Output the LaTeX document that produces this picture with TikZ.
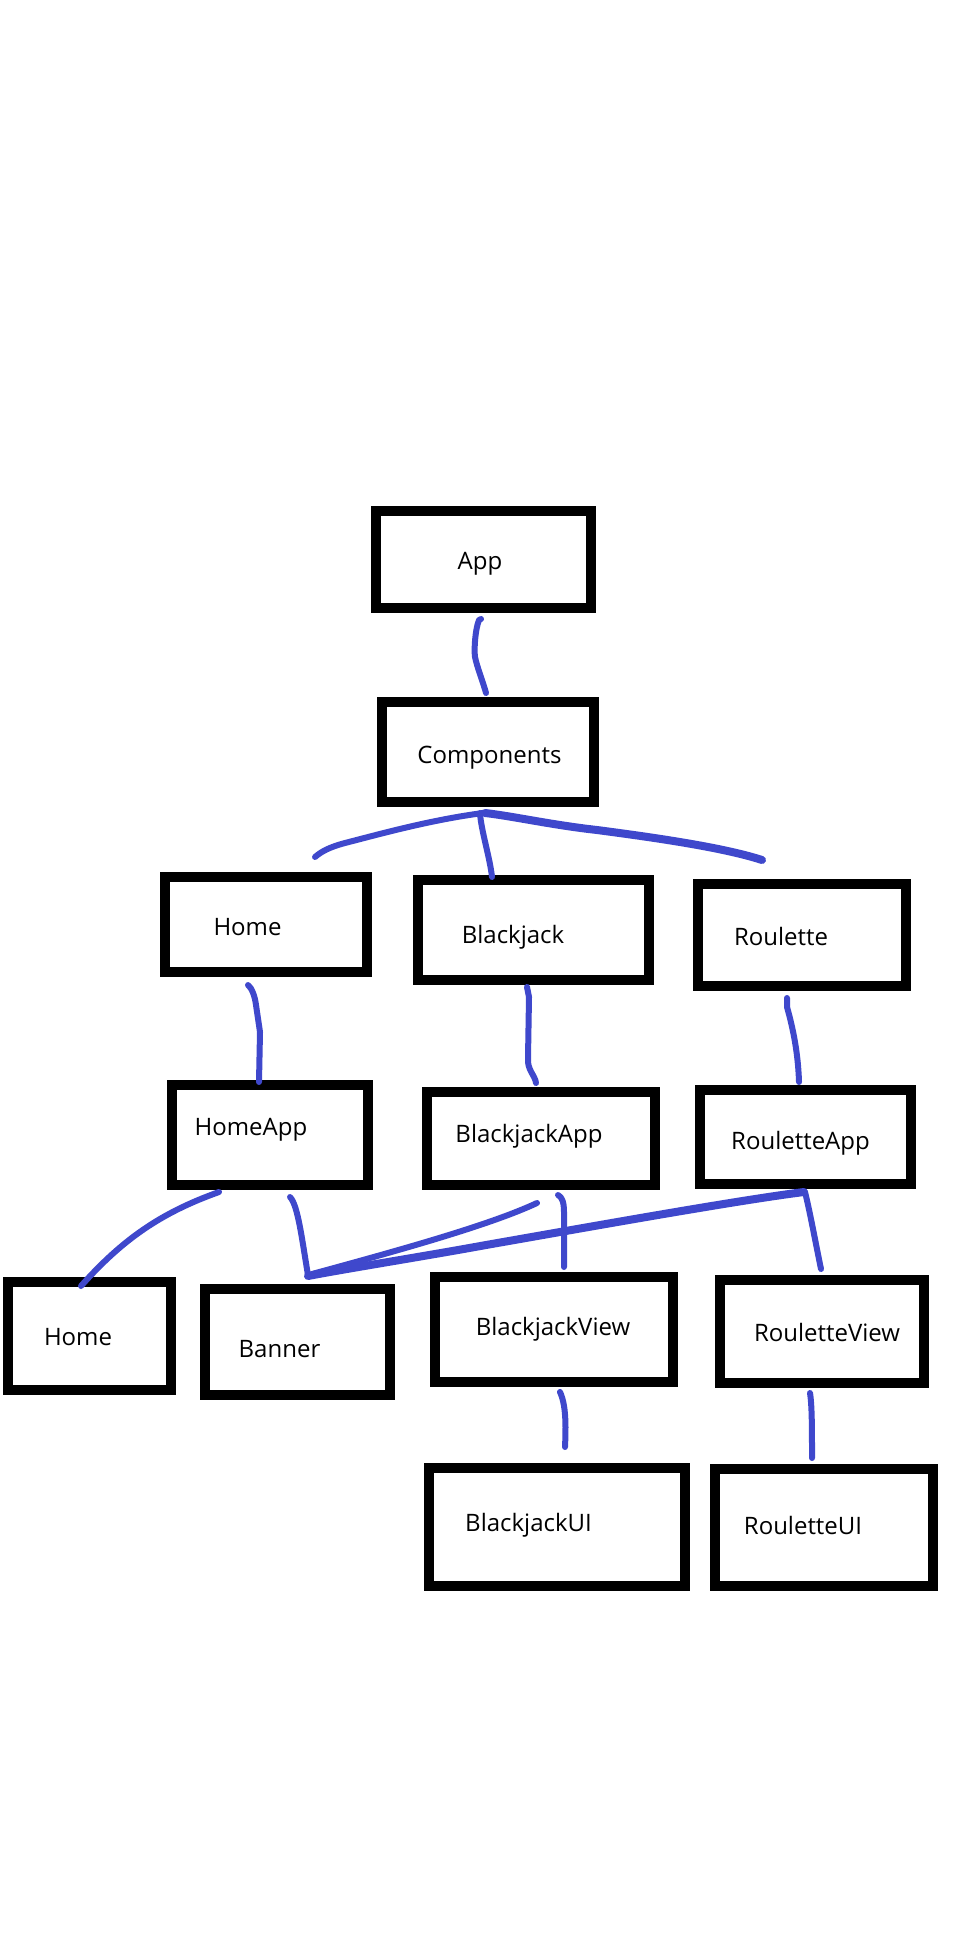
\documentclass[tikz,border=0pt]{standalone}
\usepackage{fontspec}
\setmainfont{Open Sans}
\usetikzlibrary{calc}
\definecolor{inkblue}{RGB}{63,72,204}

\begin{document}
\begin{tikzpicture}[x=0.5bp,y=-0.5bp,line join=miter,
  box/.style={draw=black,line width=5bp,inner sep=0pt},
  boxtext/.style={anchor=base,inner sep=0pt,font=\fontsize{12bp}{14bp}\selectfont},
  wire/.style={draw=inkblue,line width=3bp,line cap=round,line join=round},
  heavywire/.style={wire,line width=4bp}]
%%
  \fill[white] (0,0) rectangle (972,1944);
%%
  % Node: app
  \node[box,minimum width=107.5bp,minimum height=48.5bp] (app) at (483.5,559.5) {};
  \node[boxtext] (app_text) at (480,569) {App};
  % Node: components
  \node[box,minimum width=106bp,minimum height=50bp] (components) at (488,752) {};
  \node[boxtext] (components_text) at (489.5,763) {Components};
  % Node: home
  \node[box,minimum width=101bp,minimum height=47.5bp] (home) at (266,924.5) {};
  \node[boxtext] (home_text) at (247.5,935) {Home};
  % Node: blackjack
  \node[box,minimum width=115.5bp,minimum height=50bp] (blackjack) at (533.5,930) {};
  \node[boxtext] (blackjack_text) at (513,943) {Blackjack};
  % Node: roulette
  \node[box,minimum width=104bp,minimum height=51bp] (roulette) at (802,935) {};
  \node[boxtext] (roulette_text) at (781,945) {Roulette};
  % Node: home_app
  \node[box,minimum width=98bp,minimum height=50bp] (home_app) at (270,1135) {};
  \node[boxtext] (home_app_text) at (251,1135) {HomeApp};
  % Node: blackjack_app
  \node[box,minimum width=114bp,minimum height=46.5bp] (blackjack_app) at (541,1138.5) {};
  \node[boxtext] (blackjack_app_text) at (529,1142) {BlackjackApp};
  % Node: roulette_app
  \node[box,minimum width=105.5bp,minimum height=47bp] (roulette_app) at (805.5,1137) {};
  \node[boxtext] (roulette_app_text) at (800.5,1149) {RouletteApp};
  % Node: home_page
  \node[box,minimum width=81.5bp,minimum height=54bp] (home_page) at (89.5,1336) {};
  \node[boxtext] (home_page_text) at (78,1345) {Home};
  % Node: banner
  \node[box,minimum width=92.5bp,minimum height=53bp] (banner) at (297.5,1342) {};
  \node[boxtext] (banner_text) at (279.5,1357) {Banner};
  % Node: blackjack_view
  \node[box,minimum width=119bp,minimum height=52.5bp] (blackjack_view) at (554,1329.5) {};
  \node[boxtext] (blackjack_view_text) at (553,1335) {BlackjackView};
  % Node: roulette_view
  \node[box,minimum width=102bp,minimum height=51.5bp] (roulette_view) at (822,1331.5) {};
  \node[boxtext] (roulette_view_text) at (827,1341) {RouletteView};
  % Node: blackjack_ui
  \node[box,minimum width=128bp,minimum height=59bp] (blackjack_ui) at (557,1527) {};
  \node[boxtext] (blackjack_ui_text) at (528.5,1531) {BlackjackUI};
  % Node: roulette_ui
  \node[box,minimum width=109bp,minimum height=58.5bp] (roulette_ui) at (824,1527.5) {};
  \node[boxtext] (roulette_ui_text) at (803,1534) {RouletteUI};
%%
  % Edge: app -> components
  \draw[wire] ($(app.south)+(-2.5,6)$) -- (479,620) .. controls (475,630) and (474,650) .. (475,657) .. controls (477,667) and (484,685) .. ($(components.north)+(-2,-4)$);
  % Edge: components -> home
  \draw[wire] ($(components.south)+(-5,6)$) .. controls (430,820) and (380,834) .. (345,843) .. controls (330,847) and (322,851) .. ($(home.north)+(49,-15)$);
  % Edge: components -> blackjack
  \draw[wire] ($(components.south)+(-8,6)$) .. controls (481,830) and (490,858) .. ($(blackjack.north)+(-41.5,2)$);
  % Edge: components -> roulette
  \draw[heavywire] ($(components.south)+(-3,6)$) .. controls (512,816) and (552,825) .. (597,830) .. controls (650,837) and (722,847) .. ($(roulette.north)+(-40,-19)$);
  % Edge: home -> home_app
  \draw[wire] ($(home.south)+(-18,8)$) .. controls (252,988) and (255,997) .. (256,1005) -- (260,1032) -- ($(home_app.north)+(-11,2)$);
  % Edge: blackjack -> blackjack_app
  \draw[wire] ($(blackjack.south)+(-6.5,2)$) -- (529,997) -- (528,1058) .. controls (527,1070) and (535,1075) .. ($(blackjack_app.north)+(-5,-4)$);
  % Edge: roulette -> roulette_app
  \draw[wire] ($(roulette.south)+(-15,7)$) -- (787,1007) .. controls (792,1025) and (798,1050) .. ($(roulette_app.north)+(-6.5,-3)$);
  % Edge: home_app -> home_page
  \draw[wire] ($(home_app.south)+(-51,2)$) .. controls (160,1213) and (122,1240) .. ($(home_page.north)+(-8.5,9)$);
  % Edge: home_app -> banner
  \draw[wire] ($(home_app.south)+(20,7)$) .. controls (298,1205) and (302,1240) .. ($(banner.north)+(10.5,-9)$);
  % Edge: blackjack_app -> banner
  \draw[wire] ($(blackjack_app.south)+(-4,13)$) .. controls (490,1225) and (400,1250) .. ($(banner.north)+(14.5,-10)$);
  % Edge: roulette_app -> banner
  \draw[heavywire] ($(roulette_app.south)+(-1.5,3)$) .. controls (740,1200) and (600,1225) .. (486,1245) .. controls (420,1257) and (350,1268) .. ($(banner.north)+(10.5,-8)$);
  % Edge: blackjack_app -> blackjack_view
  \draw[wire] ($(blackjack_app.south)+(17,5)$) .. controls (562,1197) and (564,1202) .. (564,1212) -- ($(blackjack_view.north)+(10,-5)$);
  % Edge: roulette_app -> roulette_view
  \draw[wire] ($(roulette_app.south)+(-0.5,3)$) .. controls (810,1212) and (816,1245) .. ($(roulette_view.north)+(-1,-6)$);
  % Edge: blackjack_view -> blackjack_ui
  \draw[wire] ($(blackjack_view.south)+(6,5)$) .. controls (566,1405) and (566,1425) .. ($(blackjack_ui.north)+(8,-16)$);
  % Edge: roulette_view -> roulette_ui
  \draw[wire] ($(roulette_view.south)+(-12,5)$) .. controls (812,1405) and (812,1430) .. ($(roulette_ui.north)+(-12,-6)$);
%
\end{tikzpicture}
\end{document}
